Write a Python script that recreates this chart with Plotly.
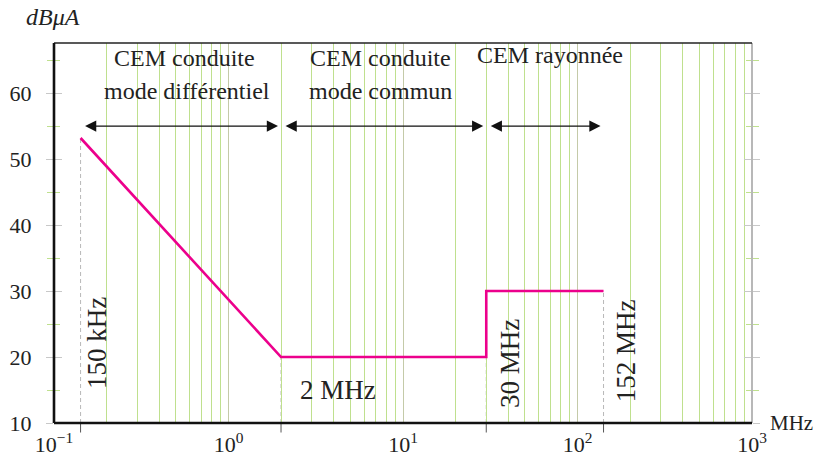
import math
import plotly.graph_objects as go

# ---------------- data ----------------
curve_freq = [0.142, 2, 30, 30, 141]          # MHz
curve_level = [53.2, 20, 20, 30, 30]          # dBuA

mark_freq = [0.142, 2, 30, 141]
mark_top = [53.2, 20, 20, 30]

band_edges = [0.142, 2, 30, 141]
arrow_level = 55

x_tick_vals = [0.1, 1, 10, 100, 1000]
x_tick_text = ["10<sup>−1</sup>", "10<sup>0</sup>", "10<sup>1</sup>", "10<sup>2</sup>", "10<sup>3</sup>"]
x_minor_vals = [d * 10 ** k for k in range(-1, 3) for d in range(2, 10)]

y_tick_vals = [10, 20, 30, 40, 50, 60]

FONT = "Liberation Serif"
MAGENTA = "#EC008C"
GREEN = "#bfe08e"
DECADE = "#c4caa8"
GREY = "#c8c8c8"

fig = go.Figure()

fig.add_trace(go.Scatter(
    x=curve_freq, y=curve_level, mode="lines",
    line=dict(color=MAGENTA, width=2.6), showlegend=False, hoverinfo="skip",
))

# dashed marker lines
shapes = []
for f, top in zip(mark_freq, mark_top):
    shapes.append(dict(type="line", xref="x", yref="y", x0=f, x1=f, y0=10, y1=top,
                       line=dict(color="#b8b8b8", width=1, dash="4px,3px"), layer="below"))
    shapes.append(dict(type="line", xref="x", yref="paper", x0=f, x1=f, y0=-0.025, y1=0.0,
                       line=dict(color="#555555", width=1), layer="above"))

# frame
shapes += [
    dict(type="line", xref="paper", yref="paper", x0=1, x1=1, y0=0, y1=1,
         line=dict(color="#b8b8b8", width=2), layer="above"),
    dict(type="line", xref="paper", yref="paper", x0=0, x1=1, y0=1, y1=1,
         line=dict(color="#222222", width=1.6), layer="above"),
    dict(type="line", xref="paper", yref="paper", x0=0, x1=1, y0=0, y1=0,
         line=dict(color="#111111", width=2.6), layer="above"),
    dict(type="line", xref="paper", yref="paper", x0=0, x1=0, y0=0, y1=1,
         line=dict(color="#111111", width=2.6), layer="above"),
]

annotations = []
# double arrows
for a, b in zip(band_edges[:-1], band_edges[1:]):
    annotations.append(dict(
        x=math.log10(b), y=arrow_level, ax=math.log10(a), ay=arrow_level,
        xref="x", yref="y", axref="x", ayref="y", text="",
        showarrow=True, arrowside="end+start", arrowhead=2, startarrowhead=2,
        arrowsize=1.6, startarrowsize=1.6, arrowwidth=1.4, arrowcolor="#111111",
        standoff=3, startstandoff=3,
    ))

def txt(x, y, s, size=24, angle=0, xanchor="center"):
    annotations.append(dict(x=math.log10(x), y=y, xref="x", yref="y", text=s,
                            showarrow=False, textangle=angle, xanchor=xanchor,
                            yanchor="middle",
                            font=dict(family=FONT, size=size, color="#222222")))

txt(0.56, 65.3, "CEM conduite")
txt(0.58, 60.3, "mode différentiel")
txt(7.4, 65.3, "CEM conduite")
txt(7.4, 60.3, "mode commun")
txt(70, 65.8, "CEM rayonnée")

txt(0.176, 22.1, "150 kHz", size=27, angle=-90)
txt(4.24, 15.0, "2 MHz", size=27)
txt(41, 19.1, "30 MHz", size=27, angle=-90)
txt(190, 20.9, "152 MHz", size=27, angle=-90)

annotations.append(dict(x=0, y=1, xref="paper", yref="paper", xanchor="left", yanchor="middle",
                        xshift=-30, yshift=26, text="<i>dBμA</i>", showarrow=False,
                        font=dict(family=FONT, size=24, color="#222222")))
annotations.append(dict(x=1, y=0, xref="paper", yref="paper", xanchor="left", yanchor="middle",
                        xshift=16, text="MHz", showarrow=False,
                        font=dict(family=FONT, size=21, color="#222222")))

fig.update_layout(
    width=814, height=457,
    margin=dict(l=54, r=62, t=43, b=34),
    paper_bgcolor="white", plot_bgcolor="white",
    shapes=shapes, annotations=annotations,
    xaxis=dict(
        type="log", range=[-1, 3], showline=False, zeroline=False, automargin=False,
        tickvals=x_tick_vals, ticktext=x_tick_text, ticks="",
        showgrid=True, gridcolor=DECADE, gridwidth=1.3,
        minor=dict(tickvals=x_minor_vals, showgrid=True, gridcolor=GREEN, gridwidth=1.3, ticks=""),
        tickfont=dict(family=FONT, size=22, color="#222222"),
        ticklabelstandoff=6,
    ),
    yaxis=dict(
        range=[10, 67.6], tickvals=y_tick_vals, showgrid=False, zeroline=False, showline=False,
        automargin=False,
        ticks="outside", ticklen=7, tickcolor=GREY, tickwidth=1.3, mirror="ticks",
        minor=dict(dtick=5, ticks="outside", ticklen=6, tickcolor=GREEN, tickwidth=1.3),
        tickfont=dict(family=FONT, size=22, color="#222222"),
        ticklabelstandoff=10,
    ),
    yaxis2=dict(
        range=[10, 67.6], overlaying="y", side="left", tickvals=y_tick_vals, automargin=False,
        showgrid=False, zeroline=False, showline=False, showticklabels=False,
        ticks="inside", ticklen=8, tickcolor=GREY, tickwidth=1.3, mirror="ticks",
        minor=dict(dtick=5, ticks="inside", ticklen=6, tickcolor=GREEN, tickwidth=1.3),
    ),
)

# invisible trace to activate yaxis2
fig.add_trace(go.Scatter(x=[1], y=[10], yaxis="y2", mode="markers",
                         marker=dict(opacity=0), showlegend=False, hoverinfo="skip"))

fig.write_html("out.html", config={"displayModeBar": False},
               post_script="document.body.style.margin='0';document.body.style.overflow='hidden';")
